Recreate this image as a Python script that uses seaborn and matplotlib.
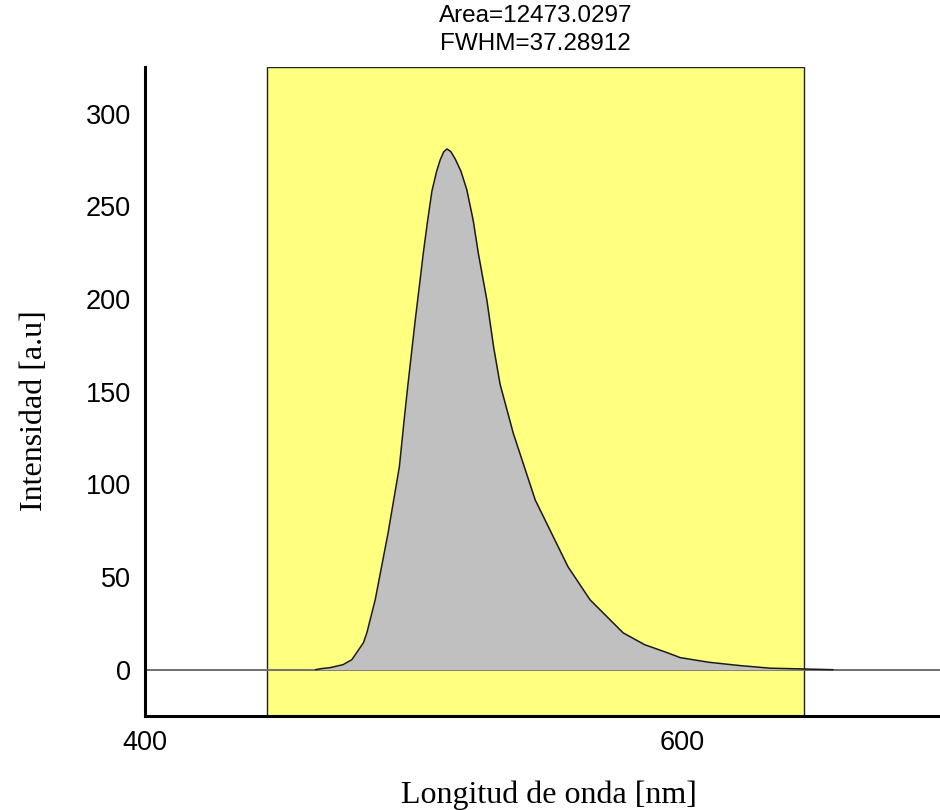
import numpy as np
import pandas as pd
import matplotlib
matplotlib.use("Agg")
import matplotlib.pyplot as plt
import seaborn as sns

# Emission spectrum (wavelength in nm, intensity in a.u.)
wavelength = [463.5, 465.2, 468.9, 473.7, 477.0, 478.8, 481.3, 482.6, 485.7, 490.5,
              494.7, 496.6, 497.8, 500.6, 502.4, 503.6, 505.2, 506.8, 508.5, 509.9,
              511.2, 512.4, 513.8, 515.5, 517.6, 519.8, 522.2, 524.1, 527.3, 529.8,
              532.2, 537.1, 545.3, 557.5, 565.7, 578.0, 586.0, 594.4, 599.3, 610.0,
              621.6, 632.8, 645.0, 656.2]
intensity = [0.0, 0.5, 1.1, 2.7, 5.4, 9.2, 14.5, 19.9, 37.7, 73.8,
             109.5, 136.4, 152.6, 188.5, 210.0, 224.6, 242.0, 258.0, 268.5, 275.0,
             279.3, 280.9, 279.6, 275.5, 269.0, 259.0, 242.3, 224.6, 199.2, 174.0,
             154.0, 127.6, 91.5, 55.5, 37.7, 19.9, 13.5, 9.2, 6.5, 4.0,
             2.2, 0.8, 0.4, 0.0]

# Integration window and its results
window = [445.4, 645.4]
area_text = "Area=12473.0297"
fwhm_text = "FWHM=37.28912"

x_ticks = [400, 600]
y_ticks = [0, 50, 100, 150, 200, 250, 300]

df = pd.DataFrame({"wavelength": wavelength, "intensity": intensity})

sns.set_style("white")
fig = plt.figure(figsize=(9.4, 8.1), dpi=100)
ax = fig.add_axes([0.1543, 0.116, 0.8457, 0.801])
ax.set_xlim(400, 696)
ax.set_ylim(-25, 325)

# Integration window
ax.axvspan(window[0], window[1], ymin=0, ymax=1, facecolor="#ffff80",
           edgecolor="#222222", linewidth=1.0, zorder=1)

# Baseline
ax.axhline(0, color="#707070", linewidth=1.4, zorder=2)

# Filled area inside the window
inside = df[(df.wavelength >= window[0]) & (df.wavelength <= window[1])]
ax.fill_between(inside.wavelength, 0, inside.intensity, color="#c0c0c0",
                linewidth=0, zorder=3)

sns.lineplot(data=df, x="wavelength", y="intensity", ax=ax, color="#1a1a1a",
             linewidth=1.1, zorder=4, sort=True)

ax.set_xticks(x_ticks)
ax.set_yticks(y_ticks)
ax.tick_params(axis="both", length=0, labelsize=19.5, pad=10, colors="black")
for lab in ax.get_xticklabels() + ax.get_yticklabels():
    lab.set_fontfamily("Liberation Sans")

ax.set_xlabel("Longitud de onda [nm]", fontfamily="Liberation Serif",
              fontsize=23, color="black")
ax.set_ylabel("Intensidad [a.u]", fontfamily="Liberation Serif",
              fontsize=23, color="black")
ax.xaxis.set_label_coords(0.508, -0.100)
ax.yaxis.set_label_coords(-0.121, 0.47)

for side in ["top", "right"]:
    ax.spines[side].set_visible(False)
for side in ["left", "bottom"]:
    ax.spines[side].set_color("black")
    ax.spines[side].set_linewidth(2.2)
    ax.spines[side].set_zorder(6)

center = (window[0] + window[1]) / 2
ax.annotate(area_text + "\n" + fwhm_text, xy=(center, 1.0),
            xycoords=ax.get_xaxis_transform(), xytext=(0, 9),
            textcoords="offset points", ha="center", va="bottom",
            fontsize=17.5, fontfamily="Liberation Sans", color="black",
            linespacing=1.35)

fig.savefig("out.png", dpi=100, facecolor="white")
